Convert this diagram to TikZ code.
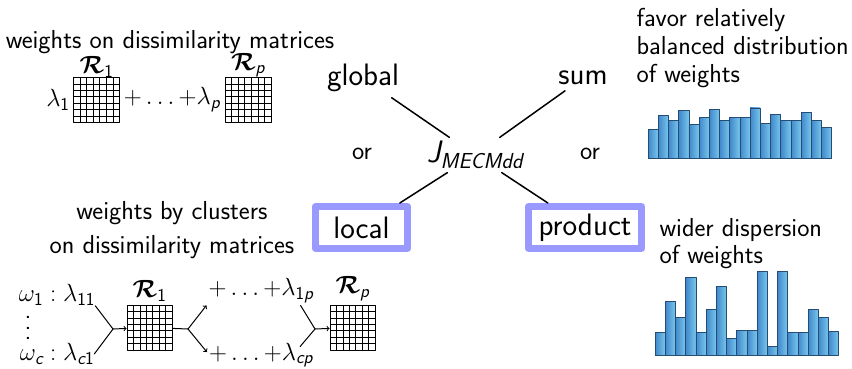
\documentclass[tikz,border=0pt]{standalone}
\usepackage{amsmath,bm}
\usetikzlibrary{calc,positioning}
\definecolor{boxblue}{rgb}{0.6,0.6,1}
\definecolor{barlo}{rgb}{0.25,0.53,0.8}
\definecolor{barhi}{rgb}{0.47,0.78,0.92}
\definecolor{baredge}{rgb}{0.15,0.3,0.45}
\newcommand\sfit[1]{\textsf{\itshape #1}}
\newcommand\sfup[1]{\textsf{#1}}
\newcommand\calR{\bm{\mathcal{R}}}

\begin{document}
\begin{tikzpicture}[line cap=round,line join=round,>=to,x=1pt,y=-1pt,
  small/.style={font=\sffamily\fontsize{26}{28}\selectfont},
  big/.style={font=\sffamily\fontsize{31}{34}\selectfont},
  mat/.style={draw,line width=0.9pt,minimum width=46pt,minimum height=45pt,inner sep=0pt,
    path picture={
      \coordinate (nw) at (path picture bounding box.north west);
      \coordinate (ne) at (path picture bounding box.north east);
      \coordinate (sw) at (path picture bounding box.south west);
      \coordinate (se) at (path picture bounding box.south east);
      \foreach \k in {1,...,6}{
        \draw[line width=0.7pt] ($(nw)!\k/7!(ne)$) -- ($(sw)!\k/7!(se)$);
        \draw[line width=0.7pt] ($(nw)!\k/7!(sw)$) -- ($(ne)!\k/7!(se)$);
      }}},
  choice/.style={big,draw=boxblue,line width=7pt,minimum height=42pt,inner xsep=8pt,inner ysep=3pt},
  link/.style={line width=1.5pt},
  feed/.style={line width=1pt},
  bar/.style={draw=baredge,line width=0.6pt,left color=barlo,right color=barhi}]
\useasboundingbox (0,0) rectangle (852,369);

	% global weights
	\node[small] (tglob) at (170,42) {weights on dissimilarity matrices};
	\node[mat] (m1) at (96.5,100) {};
	\node[small,above=-4pt of m1] (r1) {$\calR_{\sfup{1}}$};
	\node[small,left=0pt of m1] (l1) {$\lambda_{\sfup{1}}$};
	\node[small] (dots1) at (172,100) {${+}\ldots{+}\lambda_{\sfit{p}}$};
	\node[mat] (mp) at (248,100) {};
	\node[small,above=-4pt of mp] (rp) {$\calR_{\sfit{p}}$};

	% criterion and its variants
	\node[big] (J) at (475,155) {$\sfit{J}_{\sfit{MECMdd}}$};
	\node[big] (glob) at (363,78) {global};
	\node[big] (sum) at (583,78) {sum};
	\node[small] (or1) at (362,154) {or};
	\node[small] (or2) at (590,154) {or};
	\node[choice,minimum width=92pt] (loc) at (361.5,227.5) {local};
	\node[choice,minimum width=113pt] (prod) at (585,227.5) {product};
		\draw[link,shorten <=4pt] (glob) -- (J);
		\draw[link,shorten <=4pt] (sum) -- (J);
		\draw[link] (J) -- (loc);
		\draw[link] (J) -- (prod);

	% weights by clusters
	\node[small,align=center] (tclus) at (172,230) {weights by clusters\\[6pt]on dissimilarity matrices};
	\node[small,inner sep=0pt] (w1) at (57,295) {$\omega_{\sfup{1}}:\lambda_{\sfup{11}}$};
	\node[font=\sffamily\fontsize{26}{10.5}\selectfont,align=center,inner sep=0pt] (vd) at (28,328) {.\\.\\.};
	\node[small,inner sep=0pt] (wc) at (57,354) {$\omega_{\sfit{c}}:\lambda_{\sfit{c}\sfup{1}}$};
	\node[mat,minimum width=45pt] (m2) at (149.5,327.5) {};
	\node[small,above=0pt of m2] (r2) {$\calR_{\sfup{1}}$};
	\node[small,inner sep=2pt] (p1) at (261,291) {${+}\ldots{+}\lambda_{\sfup{1}\sfit{p}}$};
	\node[small,inner sep=2pt] (pc) at (261,355) {${+}\ldots{+}\lambda_{\sfit{cp}}$};
	\node[mat,minimum width=45pt] (mp2) at (352.5,327.5) {};
	\node[small,above=0pt of mp2] (rp2) {$\calR_{\sfit{p}}$};
	\coordinate (j1) at (113,329);
	\coordinate (j2) at (188,329);
	\coordinate (j3) at (315,329);
		\draw[feed] (w1.south east) -- (j1);
		\draw[feed] (wc.east) -- (j1);
		\draw[feed,->] (j1) -- (m2);
		\draw[feed] (m2) -- (j2);
		\draw[feed,->] (j2) -- (p1.south west);
		\draw[feed,->] (j2) -- ([yshift=3pt]pc.west);
		\draw[feed] ([xshift=-15pt]p1.south east) -- (j3);
		\draw[feed] ([xshift=-15pt,yshift=-6pt]pc.north east) -- (j3);
		\draw[feed,->] (j3) -- (mp2);

	% distributions of weights
	\node[small,align=left,anchor=base west] (fav) at (633,82) {favor relatively\\balanced distribution\\of weights};
	\node[small,align=left,anchor=base west,font=\sffamily\fontsize{26}{27}\selectfont] (wid) at (656,263) {wider dispersion\\of weights};
	\foreach \h [count=\i from 0] in {29,43,38,48,34,41,49,38,41,41,50,35,44,38,38,46,38,31}
		\draw[bar] (648+\i*10.2,158) rectangle ++(10.2,-\h);
	\foreach \h [count=\i from 0] in {23,54,38,78,23,46,69,17,25,25,84,9,84,23,23,46,38,24}
		\draw[bar] (655+\i*10.2,355) rectangle ++(10.2,-\h);
\end{tikzpicture}
\end{document}
